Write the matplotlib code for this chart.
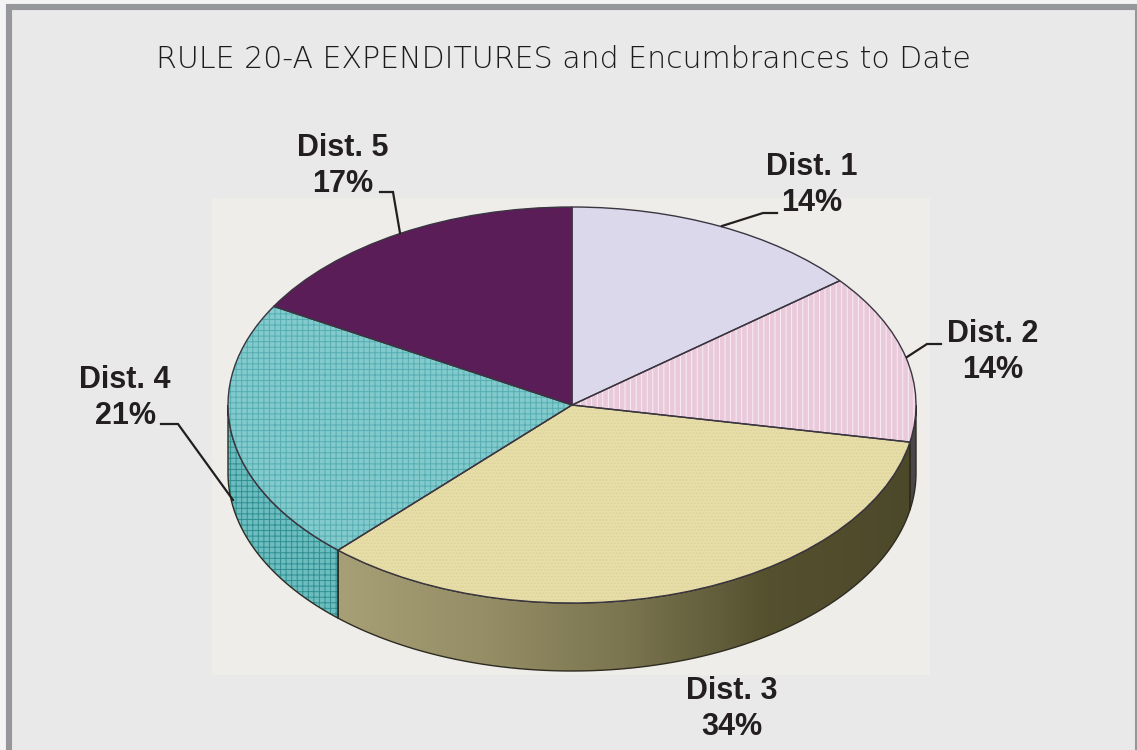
# -*- coding: utf-8 -*-

"""Rule 20-A expenditures, drawn as a tilted pie with side walls."""

# *****************************************************************************
# *** Import modules
import numpy as np
import matplotlib
matplotlib.use('Agg')
import matplotlib.pyplot as plt
from matplotlib.colors import LinearSegmentedColormap
from matplotlib.patches import PathPatch, Polygon, Rectangle
from matplotlib.transforms import Affine2D
# *****************************************************************************


# *****************************************************************************
# *** Define data

lstDist = ['Dist. 1', 'Dist. 2', 'Dist. 3', 'Dist. 4', 'Dist. 5']

# Shares as measured on the picture (slice sizes):
lstVal = [14.2, 13.8, 33.9, 21.4, 16.7]

# Shares as printed on the labels:
lstPct = ['14%', '14%', '34%', '21%', '17%']

strTitle = 'RULE 20-A EXPENDITURES and Encumbrances to Date'
# *****************************************************************************


# *****************************************************************************
# *** Figure parameters

# Pie geometry (pixels):
varCx, varCy = 572.0, 405.0
varRx, varRy = 344.0, 198.0
varDepth = 68.0

lstClrTop = ['#dbd8ec', '#e9c9da', '#e6dda8', '#82cacc', '#5a1d58']
lstHatch = [None, '|||', '.....', '+++', None]
lstClrHatch = [None, '#f8eef4', '#dcd398', '#55aeb2', None]

# Label centres and leader lines:
lstPosLbl = [(812, 185), (993, 352), (732, 709), (125, 398), (343, 166)]
lstLead = [[(722, 226), (763, 213), (777, 213)],
           [(907, 357), (927, 344), (941, 344)],
           None,
           [(161, 424), (178, 424), (233, 500)],
           [(380, 192), (393, 192), (400, 233)]]

plt.rcParams['hatch.linewidth'] = 0.7

fgr01 = plt.figure(figsize=(11.37, 7.5), dpi=100, facecolor='#f4f4f4')
axs01 = fgr01.add_axes([0, 0, 1, 1])
# *****************************************************************************


# *****************************************************************************
# *** Top of the pie

# Top face, unit circle squashed into the ellipse:
tplPie = axs01.pie(lstVal,
                   startangle=90,
                   counterclock=False,
                   colors=lstClrTop,
                   radius=1.0)
trnTop = (Affine2D().scale(varRx, -varRy).translate(varCx, varCy)
          + axs01.transData)

axs01.set_aspect('auto')
axs01.set_xlim(0, 1137)
axs01.set_ylim(750, 0)
axs01.set_axis_off()

for idx, wdg in enumerate(tplPie[0]):
    wdg.set_transform(trnTop)
    wdg.set_zorder(5)
    wdg.set_edgecolor('none')
    if lstHatch[idx] is not None:
        wdg.set_hatch(lstHatch[idx])
        wdg.set_edgecolor(lstClrHatch[idx])
        wdg.set_linewidth(0)
    # Outline is drawn on its own, the hatch takes the edge colour:
    axs01.add_patch(PathPatch(wdg.get_path(),
                              fill=False,
                              transform=wdg.get_patch_transform() + trnTop,
                              edgecolor='#3a3540',
                              linewidth=1.0,
                              zorder=6))
# *****************************************************************************


# *****************************************************************************
# *** Background

axs01.add_patch(Rectangle((9, 7), 1129, 760, facecolor='#e9e9e9',
                          edgecolor='#96979b', linewidth=4.4, zorder=0))
axs01.add_patch(Rectangle((212, 198), 718, 477, facecolor='#efedea',
                          edgecolor='none', zorder=1))
# *****************************************************************************


# *****************************************************************************
# *** Side walls

# Slice limits in degrees, clockwise from twelve o'clock:
vecLim = 90.0 - 360.0 * np.cumsum([0.0] + lstVal) / np.sum(lstVal)

cmpWall = LinearSegmentedColormap.from_list(
    'wall', ['#a79f76', '#958e66', '#7b7550', '#55512f', '#4c482a'])

for idx in range(len(lstVal)):

    # Visible part of the rim is the lower half of the ellipse:
    varA = min(vecLim[idx], 0.0)
    varB = max(vecLim[idx + 1], -180.0)
    if varA <= varB:
        continue

    vecT = np.radians(np.linspace(varA, varB, 80))
    vecX = varCx + varRx * np.cos(vecT)
    vecY = varCy - varRy * np.sin(vecT)
    aryWall = np.vstack([np.column_stack([vecX, vecY]),
                         np.column_stack([vecX, vecY + varDepth])[::-1]])

    pchLine = Polygon(aryWall, closed=True, facecolor='none',
                      edgecolor='#2e2b20', linewidth=1.0, zorder=4)
    axs01.add_patch(pchLine)

    if lstDist[idx] == 'Dist. 3':
        imgWall = axs01.imshow(np.linspace(0, 1, 256).reshape(1, -1),
                               cmap=cmpWall,
                               extent=(vecX.min(), vecX.max(), 680, 400),
                               aspect='auto',
                               zorder=3)
        imgWall.set_clip_path(pchLine)
    elif lstDist[idx] == 'Dist. 4':
        axs01.add_patch(Polygon(aryWall, closed=True, facecolor='#6dbcbe',
                                edgecolor='#2f8f93', linewidth=0.0,
                                hatch='+++', zorder=3))
    else:
        axs01.add_patch(Polygon(aryWall, closed=True, facecolor='#4a4548',
                                edgecolor='none', zorder=3))

axs01.set_xlim(0, 1137)
axs01.set_ylim(750, 0)
# *****************************************************************************


# *****************************************************************************
# *** Text and leader lines

axs01.text(563, 59, strTitle, ha='center', va='center', color='#1c1c1c',
           fontsize=21.6, family='DejaVu Sans', fontweight='light', zorder=8)

for idx in range(len(lstDist)):
    axs01.text(lstPosLbl[idx][0], lstPosLbl[idx][1],
               lstDist[idx] + '\n' + lstPct[idx],
               ha='center', va='center', ma='center',
               color='#231f20', fontsize=22, fontweight='bold',
               family='Liberation Sans', linespacing=1.27, zorder=8)
    if lstLead[idx] is not None:
        aryLead = np.array(lstLead[idx])
        axs01.plot(aryLead[:, 0], aryLead[:, 1], color='#231f20',
                   linewidth=1.6, zorder=7, solid_joinstyle='miter')
# *****************************************************************************

fgr01.savefig('out.png', dpi=100, facecolor=fgr01.get_facecolor())
plt.close(fgr01)
